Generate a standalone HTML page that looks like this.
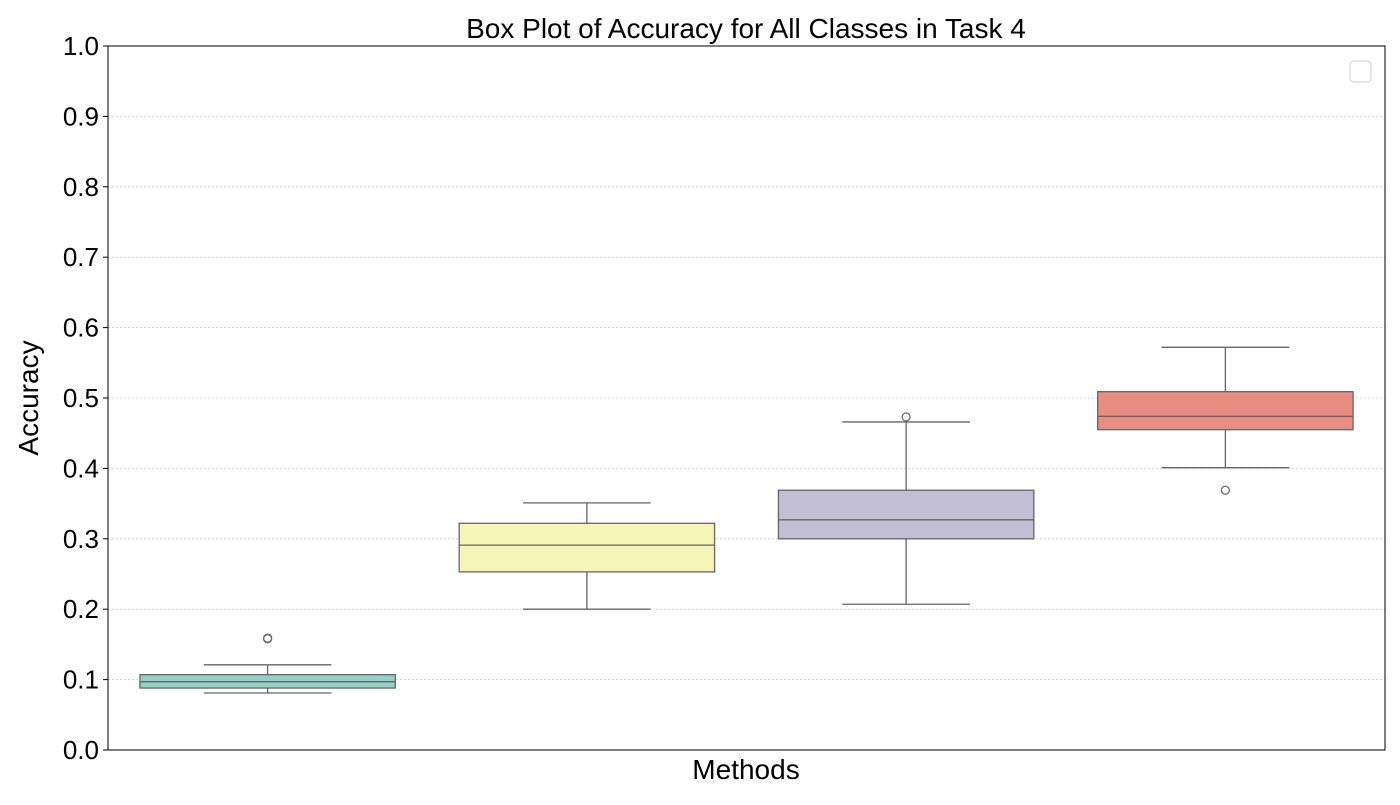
<!DOCTYPE html>
<html><head><meta charset="utf-8"><style>
body{margin:0;background:#fff;}
svg text{font-family:"Liberation Sans","DejaVu Sans",sans-serif;}
</style></head><body>
<svg width="1400" height="800" xmlns="http://www.w3.org/2000/svg" id="chart">
<rect width="1400" height="800" fill="#fff"/>
<g id="grid"></g>
<g id="yticks"></g>
<g id="boxes"></g>
<rect x="108" y="46" width="1277" height="704" fill="none" stroke="#000" stroke-width="1"/>
<rect x="1350" y="61" width="21" height="21" rx="4" fill="#fff" stroke="#ccc"/>
<text x="746" y="38" font-size="28" text-anchor="middle">Box Plot of Accuracy for All Classes in Task 4</text>
<text x="746" y="779" font-size="28" text-anchor="middle">Methods</text>
<text transform="translate(38,398) rotate(-90)" font-size="28" text-anchor="middle">Accuracy</text>
</svg>
<script>
const methods=["M1","M2","M3","M4"];
const lowWhisker=[0.081,0.200,0.207,0.401];
const q1=[0.088,0.253,0.300,0.455];
const median=[0.097,0.291,0.327,0.474];
const q3=[0.107,0.322,0.369,0.509];
const highWhisker=[0.121,0.351,0.466,0.572];
const outliers=[[0.158,0.159],[],[0.473],[0.369]];
const colors=["#93d0c5","#f5f5b8","#c2bed6","#e98d82"];
const yTicks=[0,0.1,0.2,0.3,0.4,0.5,0.6,0.7,0.8,0.9,1.0];
const NS="http://www.w3.org/2000/svg";
const L=108,R=1385,T=46,B=750;
const y=v=>B-(v-0)/(1-0)*(B-T);
const slot=(R-L)/methods.length;
const xc=i=>L+slot*(i+0.5);
function mk(tag,attrs,parent){const e=document.createElementNS(NS,tag);for(const k in attrs)e.setAttribute(k,attrs[k]);parent.appendChild(e);return e;}
const grid=document.getElementById('grid'),yt=document.getElementById('yticks'),bx=document.getElementById('boxes');
yTicks.forEach(t=>{
 if(t>0&&t<1){const g=mk('line',{x1:L,x2:R,y1:y(t),y2:y(t),stroke:'#ccc','stroke-width':0.8,'stroke-dasharray':'2,2'},grid);
 
 }
 const tk=mk('line',{x1:L-5,x2:L,y1:y(t),y2:y(t),stroke:'#000'},yt);
 
 
 const tx=mk('text',{x:L-9,y:y(t)+9,'font-size':26,'text-anchor':'end'},yt);
 tx.textContent=t.toFixed(1);
 
 
});
const bw=slot*0.8;
methods.forEach((m,i)=>{
 const g=mk('g',{},bx);
 
 
 const c=xc(i),st={stroke:'#666','stroke-width':1.3};
 mk('line',Object.assign({x1:c,x2:c,y1:y(lowWhisker[i]),y2:y(q1[i])},st),g);
 mk('line',Object.assign({x1:c,x2:c,y1:y(q3[i]),y2:y(highWhisker[i])},st),g);
 mk('line',Object.assign({x1:c-bw/4,x2:c+bw/4,y1:y(lowWhisker[i]),y2:y(lowWhisker[i])},st),g);
 mk('line',Object.assign({x1:c-bw/4,x2:c+bw/4,y1:y(highWhisker[i]),y2:y(highWhisker[i])},st),g);
 mk('rect',Object.assign({x:c-bw/2,y:y(q3[i]),width:bw,height:y(q1[i])-y(q3[i]),fill:colors[i]},st),g);
 mk('line',Object.assign({x1:c-bw/2,x2:c+bw/2,y1:y(median[i]),y2:y(median[i])},st),g);
 outliers[i].forEach(o=>{
  const p=mk('circle',{cx:c,cy:y(o),r:4,fill:'none',stroke:'#666','stroke-width':1.2},g);
  
  
 });
});
</script>
</body></html>
